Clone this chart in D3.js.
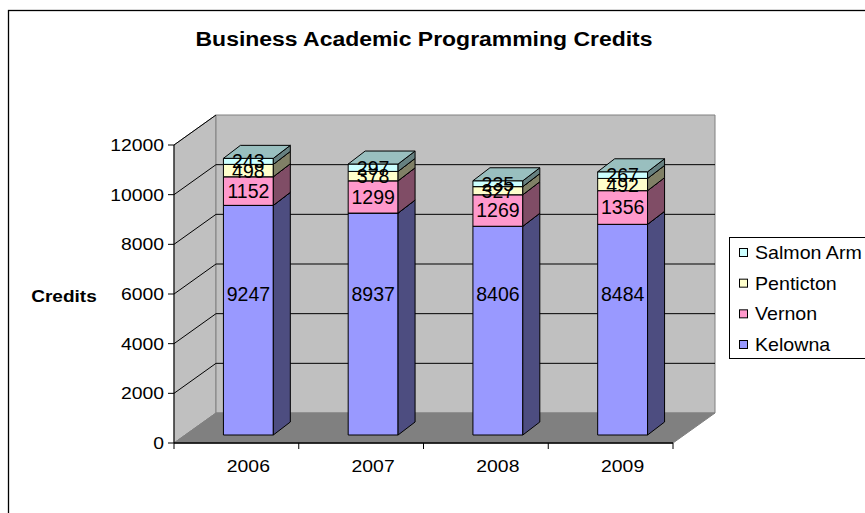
<!DOCTYPE html>
<html>
<head>
<meta charset="utf-8">
<script src="https://cdn.jsdelivr.net/npm/d3@7"></script>
<style>
  body { margin: 0; background: #fff; }
  svg { display: block; font-family: Arial, "Liberation Sans", sans-serif; }
</style>
</head>
<body>
<svg id="chart" width="865" height="513"></svg>
<script>
// data
const years = ["2006", "2007", "2008", "2009"];
const seriesNames = ["Kelowna", "Vernon", "Penticton", "Salmon Arm"];
const kelowna = [9247, 8937, 8406, 8484];
const vernon = [1152, 1299, 1269, 1356];
const penticton = [498, 378, 327, 492];
const salmonArm = [243, 297, 235, 267];
const yTicks = [0, 2000, 4000, 6000, 8000, 10000, 12000];
const seriesColors = ["#9999FF", "#FF99CC", "#FFFFCC", "#CCFFFF"];

const values = [kelowna, vernon, penticton, salmonArm];

const svg = d3.select("#chart");

// layout
const plot = { left: 174, right: 673, top: 145, bottom: 443 };
const wallDepth = { x: 42, y: -30 };
const barFront = { x: 12, y: -8 };
const barDepth = { x: 17, y: -13 };

const x = d3.scaleBand().domain(years).range([plot.left, plot.right])
    .paddingInner(0.6).paddingOuter(0.3);
const xAxisBand = d3.scaleBand().domain(years).range([plot.left, plot.right]);
const y = d3.scaleLinear().domain([0, 12000]).range([plot.bottom, plot.top]);

function shade(c, f) {
    const col = d3.rgb(c);
    return d3.rgb(col.r * f, col.g * f, col.b * f).formatHex();
}

function txt(sel, px, py, s, size, sx, anchor, weight) {
    return sel.append("text")
        .attr("transform", `translate(${px},${py}) scale(${sx},1)`)
        .attr("text-anchor", anchor || "middle")
        .attr("font-size", size)
        .attr("font-weight", weight || "normal")
        .attr("fill", "#000")
        .text(s);
}

const pts = arr => arr.map(p => p.join(",")).join(" ");

// outer frame
svg.append("rect").attr("x", 8.5).attr("y", 10.5).attr("width", 900).attr("height", 600)
    .attr("fill", "#fff").attr("stroke", "#000").attr("stroke-width", 1.3);

// title
txt(svg, 424, 46, "Business Academic Programming Credits", 20.5, 1.12, "middle", "bold");

// walls & floor
const bx = plot.left + wallDepth.x, bxr = plot.right + wallDepth.x;
svg.append("polygon")
    .attr("points", pts([[plot.left, plot.bottom], [plot.left, plot.top], [bx, plot.top + wallDepth.y], [bx, plot.bottom + wallDepth.y]]))
    .attr("fill", "#C0C0C0").attr("stroke", "#808080");
svg.append("polygon")
    .attr("points", pts([[bx, plot.top + wallDepth.y], [bxr, plot.top + wallDepth.y], [bxr, plot.bottom + wallDepth.y], [bx, plot.bottom + wallDepth.y]]))
    .attr("fill", "#C0C0C0").attr("stroke", "#808080");
svg.append("polygon")
    .attr("points", pts([[plot.left, plot.bottom], [plot.right, plot.bottom], [bxr, plot.bottom + wallDepth.y], [bx, plot.bottom + wallDepth.y]]))
    .attr("fill", "#808080").attr("stroke", "#808080");

// gridlines
const grid = svg.append("g").attr("stroke", "#000").attr("stroke-width", 1);
grid.selectAll(".diag").data(yTicks.slice(1)).enter().append("line")
    .attr("x1", plot.left).attr("y1", d => y(d))
    .attr("x2", bx).attr("y2", d => y(d) + wallDepth.y);
grid.selectAll(".back").data(yTicks.slice(1, -1)).enter().append("line")
    .attr("x1", bx).attr("y1", d => y(d) + wallDepth.y)
    .attr("x2", bxr).attr("y2", d => y(d) + wallDepth.y);

// y axis
const ya = svg.append("g");
ya.append("line").attr("x1", plot.left).attr("x2", plot.left)
    .attr("y1", plot.top).attr("y2", plot.bottom).attr("stroke", "#000");
ya.selectAll(".tk").data(yTicks).enter().append("line")
    .attr("x1", plot.left - 6).attr("x2", plot.left)
    .attr("y1", d => y(d)).attr("y2", d => y(d)).attr("stroke", "#000");
yTicks.forEach(t => txt(ya, 164, y(t) + 6, String(t), 17, 1.14, "end"));
txt(svg, 64, 302, "Credits", 17, 1.12, "middle", "bold");

// x axis
const xa = svg.append("g");
xa.append("line").attr("x1", plot.left).attr("x2", plot.right)
    .attr("y1", plot.bottom).attr("y2", plot.bottom).attr("stroke", "#000").attr("stroke-width", 1.5);
const xTickPos = years.map(d => xAxisBand(d)).concat([plot.right]);
xa.selectAll(".tk").data(xTickPos).enter().append("line")
    .attr("x1", d => d).attr("x2", d => d)
    .attr("y1", plot.bottom).attr("y2", plot.bottom + 6).attr("stroke", "#000");
years.forEach(d => txt(xa, xAxisBand(d) + xAxisBand.bandwidth() / 2 + barFront.x, 472, d, 17, 1.14, "middle"));

// stacked 3D bars
const rows = years.map((yr, i) => {
    const r = { year: yr };
    seriesNames.forEach((s, k) => r[s] = values[k][i]);
    return r;
});
const stacked = d3.stack().keys(seriesNames)(rows);

const bars = svg.append("g").attr("stroke", "#000").attr("stroke-width", 1).attr("stroke-linejoin", "round");
years.forEach((yr, i) => {
    const x0 = x(yr) + barFront.x, x1 = x0 + x.bandwidth();
    stacked.forEach((layer, k) => {
        const seg = layer[i];
        const yb = y(seg[0]) + barFront.y, yt = y(seg[1]) + barFront.y;
        const c = seriesColors[k];
        bars.append("polygon").attr("points", pts([[x0, yb], [x1, yb], [x1, yt], [x0, yt]])).attr("fill", c);
        bars.append("polygon").attr("points", pts([[x1, yb], [x1 + barDepth.x, yb + barDepth.y], [x1 + barDepth.x, yt + barDepth.y], [x1, yt]]))
            .attr("fill", shade(c, 0.5));
        bars.append("polygon").attr("points", pts([[x0, yt], [x1, yt], [x1 + barDepth.x, yt + barDepth.y], [x0 + barDepth.x, yt + barDepth.y]]))
            .attr("fill", shade(c, 0.75));
    });
});

// data labels
const labels = svg.append("g");
years.forEach((yr, i) => {
    const cx = x(yr) + barFront.x + x.bandwidth() / 2;
    stacked.forEach((layer, k) => {
        const seg = layer[i];
        // Excel parks the bottom labels at mid-axis height
        const mid = k === 0 ? y(6000) + 4 : (y(seg[0]) + y(seg[1])) / 2;
        txt(labels, cx, mid + barFront.y + 7 + (k === 0 ? 4 : 0), String(values[k][i]), 19.5, 1.0, "middle");
    });
});

// legend
const lg = svg.append("g");
lg.append("rect").attr("x", 729.5).attr("y", 237.5).attr("width", 200).attr("height", 121)
    .attr("fill", "#fff").attr("stroke", "#000");
const legendY = d3.scalePoint().domain(seriesNames.slice().reverse()).range([253, 345]);
seriesNames.forEach((s, k) => {
    const cy = legendY(s);
    lg.append("rect").attr("x", 739.5).attr("y", cy - 4.5).attr("width", 8).attr("height", 8)
        .attr("fill", seriesColors[k]).attr("stroke", "#000");
    txt(lg, 755, cy + 6, s, 18, 1.09, "start");
});
</script>
</body>
</html>
